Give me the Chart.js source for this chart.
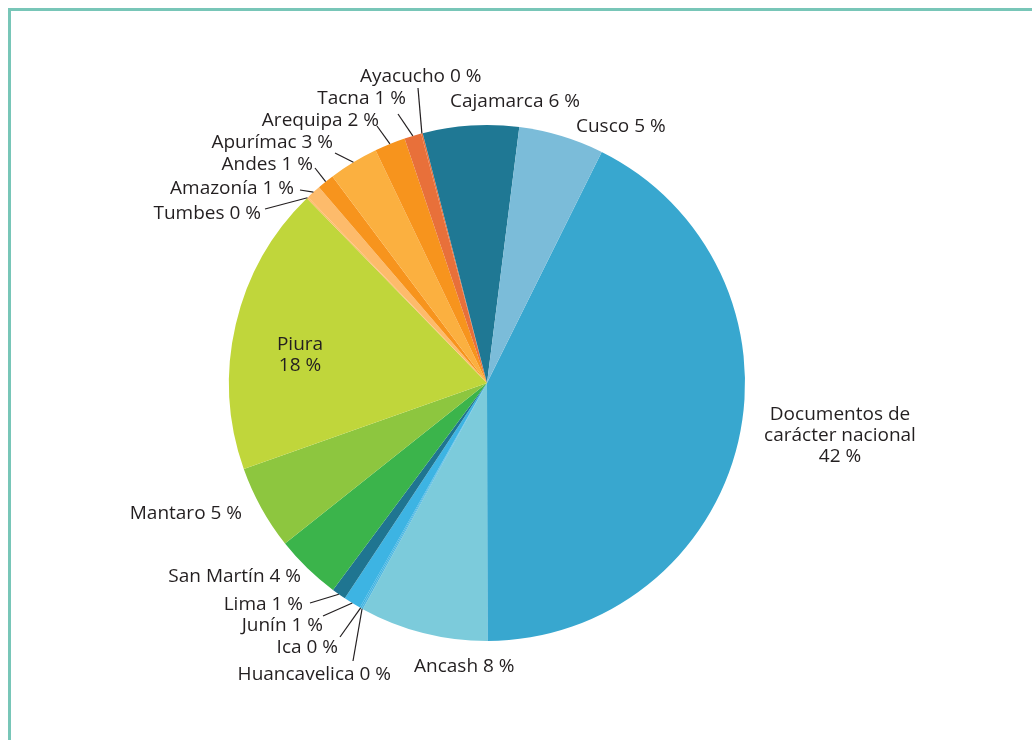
<!DOCTYPE html>
<html>
<head>
<meta charset="utf-8">
<script src="https://cdn.jsdelivr.net/npm/chart.js@4/dist/chart.umd.min.js"></script>
<style>
  html, body { margin: 0; padding: 0; background: #fff; }
  #wrap { position: absolute; left: 0; top: 0; width: 1032px; height: 740px; overflow: hidden; }
  #frame { position: absolute; left: 8px; top: 8px; width: 1100px; height: 800px;
           border-left: 3px solid #78c6b8; border-top: 3px solid #78c6b8; }
  #grafico { position: absolute; left: 0; top: 0; }
</style>
</head>
<body>
<div id="wrap">
  <div id="frame"></div>
  <canvas id="grafico" width="1032" height="740"></canvas>
</div>
<script>
// categorias (en el orden del gráfico, sentido horario)
const regiones = ["Documentos de carácter nacional", "Ancash", "Huancavelica", "Ica", "Junín", "Lima",
  "San Martín", "Mantaro", "Piura", "Tumbes", "Amazonía", "Andes", "Apurímac", "Arequipa", "Tacna",
  "Ayacucho", "Cajamarca", "Cusco"];
// porcentajes
const porcentajes = [42.85, 8.06, 0.1, 0.1, 1.1, 0.9, 4.15, 5.3, 18.2, 0.1, 0.92, 1.07, 3.13, 1.94, 1.07, 0.1, 6.04, 5.36];
// porcentajes tal como se imprimen en las etiquetas
const porcentajesRedondeados = [42, 8, 0, 0, 1, 1, 4, 5, 18, 0, 1, 1, 3, 2, 1, 0, 6, 5];

const colores = ["#38a7cf", "#7ccbdb", "#4fb8e0", "#3fb3e2", "#3db4e3", "#1f7591", "#3bb44b", "#8dc63f",
  "#c0d63b", "#fdbb6b", "#fdbb6b", "#f7941d", "#fbb040", "#f7941d", "#e8703a", "#e8703a", "#1f7894", "#7bbcd9"];

// posicion de cada etiqueta: texto (x, linea base, alineacion) y extremo exterior de la linea guia
const etiquetasLayout = {
  "Documentos de carácter nacional": { x: 840, y: 420, align: "center", lines: ["Documentos de", "carácter nacional", "42 %"] },
  "Ancash": { x: 414, y: 672, align: "left" },
  "Huancavelica": { x: 391, y: 680, align: "right", guide: [353, 661] },
  "Ica": { x: 338, y: 653, align: "right", guide: [340, 637] },
  "Junín": { x: 323, y: 631, align: "right", guide: [323, 616] },
  "Lima": { x: 303, y: 610, align: "right", guide: [310, 603] },
  "San Martín": { x: 301, y: 582, align: "right" },
  "Mantaro": { x: 242, y: 519, align: "right" },
  "Piura": { x: 300, y: 350, align: "center", lines: ["Piura", "18 %"] },
  "Tumbes": { x: 261, y: 219, align: "right", guide: [265, 209] },
  "Amazonía": { x: 294, y: 194, align: "right", guide: [300, 190] },
  "Andes": { x: 313, y: 170, align: "right", guide: [315, 168] },
  "Apurímac": { x: 333, y: 148, align: "right", guide: [335, 153] },
  "Arequipa": { x: 379, y: 126, align: "right", guide: [377, 126] },
  "Tacna": { x: 406, y: 104, align: "right", guide: [398, 114] },
  "Ayacucho": { x: 360, y: 82, align: "left", guide: [418, 88] },
  "Cajamarca": { x: 450, y: 107, align: "left" },
  "Cusco": { x: 576, y: 132, align: "left" }
};

const etiquetasPlugin = {
  id: "etiquetas",
  afterDatasetsDraw(chart) {
    const ctx = chart.ctx;
    const meta = chart.getDatasetMeta(0);
    ctx.save();
    ctx.fillStyle = "#231f20";
    ctx.strokeStyle = "#231f20";
    ctx.lineWidth = 1.2;
    ctx.font = "19px 'Open Sans'";
    ctx.textBaseline = "alphabetic";
    meta.data.forEach((arc, i) => {
      const nombre = regiones[i];
      const cfg = etiquetasLayout[nombre];
      if (!cfg) return;
      if (cfg.guide) {
        const p = arc.getProps(["x", "y", "startAngle", "endAngle", "outerRadius"], true);
        const mid = (p.startAngle + p.endAngle) / 2;
        ctx.beginPath();
        ctx.moveTo(p.x + Math.cos(mid) * p.outerRadius, p.y + Math.sin(mid) * p.outerRadius);
        ctx.lineTo(cfg.guide[0], cfg.guide[1]);
        ctx.stroke();
      }
      ctx.textAlign = cfg.align;
      const lineas = cfg.lines || [nombre + " " + porcentajesRedondeados[i] + " %"];
      lineas.forEach((t, k) => ctx.fillText(t, cfg.x, cfg.y + k * 21));
    });
    ctx.restore();
  }
};

new Chart(document.getElementById("grafico"), {
  type: "pie",
  data: {
    labels: regiones,
    datasets: [{
      data: porcentajes,
      backgroundColor: colores,
      borderWidth: 0
    }]
  },
  options: {
    responsive: false,
    animation: false,
    rotation: 26.4,
    layout: { padding: { left: 229, right: 287, top: 125, bottom: 99 } },
    plugins: {
      legend: { display: false },
      tooltip: { enabled: false }
    }
  },
  plugins: [etiquetasPlugin]
});
</script>
</body>
</html>
